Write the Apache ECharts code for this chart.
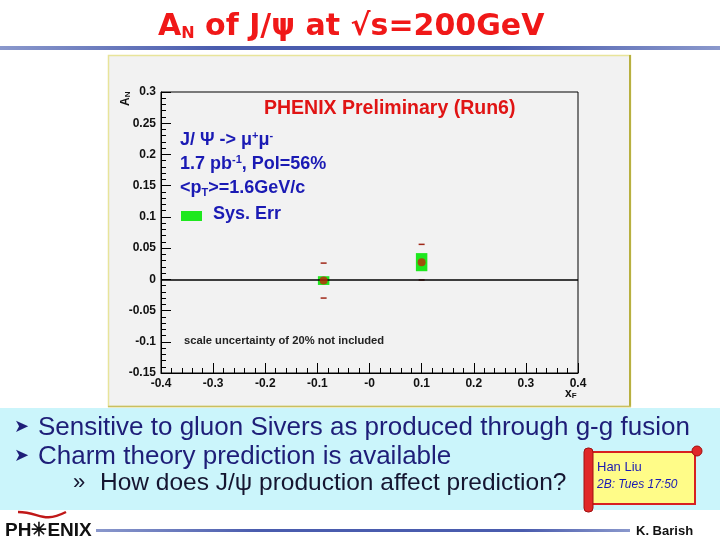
<!DOCTYPE html>
<html><head><meta charset="utf-8">
<script src="https://cdn.jsdelivr.net/npm/echarts@6/dist/echarts.min.js"></script>
<style>html,body{margin:0;padding:0;background:#fff}#c{width:720px;height:540px}</style>
</head><body><div id="c"></div>
<script>
// ---- data ----
const xF = [-0.088, 0.1];
const AN = [-0.002, 0.0275];
const statErr = [0.028, 0.0285];
const sysErr = [0.007, 0.0145];
const sysHalfWidth = [0.011, 0.011];
const xTickLabels = ['-0.4', '-0.3', '-0.2', '-0.1', '-0', '0.1', '0.2', '0.3', '0.4'];
const yTickLabels = ['-0.15', '-0.1', '-0.05', '0', '0.05', '0.1', '0.15', '0.2', '0.25', '0.3'];
const xRange = [-0.4, 0.4];
const yRange = [-0.15, 0.3];

const points = xF.map((x, i) => [x, AN[i], statErr[i], sysErr[i], sysHalfWidth[i]]);

const chart = echarts.init(document.getElementById('c'));
const F = 'Liberation Sans, Arial, sans-serif';
const navy = '#1e1e78';
const blue = '#1a1ab4';

chart.setOption({
  animation: false,
  backgroundColor: '#ffffff',
  grid: { left: 161, top: 92, width: 417, height: 281, show: true, borderColor: '#000', borderWidth: 1, backgroundColor: 'transparent' },
  xAxis: {
    type: 'value', min: xRange[0], max: xRange[1], interval: 0.1,
    axisLine: { show: true, onZero: false, lineStyle: { color: '#000', width: 1 } },
    axisTick: { show: true, inside: true, length: 10, lineStyle: { color: '#000' } },
    minorTick: { show: true, splitNumber: 5, length: 5, lineStyle: { color: '#000' } },
    splitLine: { show: false },
    axisLabel: { margin: 5, color: '#111', fontFamily: F, fontWeight: 'bold', fontSize: 12,
      formatter: v => xTickLabels[Math.round((v - xRange[0]) / 0.1)] }
  },
  yAxis: {
    type: 'value', min: yRange[0], max: yRange[1], interval: 0.05,
    axisLine: { show: true, onZero: false, lineStyle: { color: '#000', width: 1 } },
    axisTick: { show: true, inside: true, length: 10, lineStyle: { color: '#000' } },
    minorTick: { show: true, splitNumber: 5, length: 5, lineStyle: { color: '#000' } },
    splitLine: { show: false },
    axisLabel: { margin: 5, color: '#111', fontFamily: F, fontWeight: 'bold', fontSize: 12,
      formatter: v => yTickLabels[Math.round((v - yRange[0]) / 0.05)] }
  },
  series: [
    {
      type: 'custom', z: 1, data: points,
      renderItem: (params, api) => {
        const x = api.value(0), y = api.value(1), s = api.value(3), w = api.value(4);
        const p1 = api.coord([x - w, y + s]);
        const p2 = api.coord([x + w, y - s]);
        return { type: 'rect', shape: { x: p1[0], y: p1[1], width: p2[0] - p1[0], height: p2[1] - p1[1] },
          style: { fill: '#1ee81e' } };
      }
    },
    {
      type: 'custom', z: 1, data: points,
      renderItem: (params, api) => {
        const x = api.value(0), y = api.value(1), e = api.value(2);
        const top = api.coord([x, y + e]);
        const bot = api.coord([x, y - e]);
        return { type: 'group', children: [
          { type: 'line', shape: { x1: top[0] - 3, y1: top[1], x2: top[0] + 3, y2: top[1] }, style: { stroke: '#a02818', lineWidth: 1.5 } },
          { type: 'line', shape: { x1: bot[0] - 3, y1: bot[1], x2: bot[0] + 3, y2: bot[1] }, style: { stroke: '#a02818', lineWidth: 1.5 } }
        ] };
      }
    },
    {
      type: 'scatter', z: 3, data: points.map(p => [p[0], p[1]]),
      symbol: 'circle', symbolSize: 8,
      itemStyle: { color: '#c02808' },
      markLine: { silent: true, symbol: 'none', z: 2, label: { show: false },
        lineStyle: { color: '#000', width: 1.6, type: 'solid' }, data: [{ yAxis: 0 }] }
    }
  ],
  graphic: [
    // slide title
    { type: 'text', left: 158, top: 12, z: 10, style: {
      text: '{a|A}{s|N}{a| of J/ψ at √s=200GeV}', rich: {
        a: { fontFamily: 'DejaVu Sans', fontWeight: 'bold', fontSize: 30, fill: '#f01818' },
        s: { fontFamily: 'DejaVu Sans', fontWeight: 'bold', fontSize: 16, fill: '#f01818', verticalAlign: 'bottom', padding: [14, 0, 0, 0] }
      } } },
    { type: 'rect', z: -5, shape: { x: 0, y: 46, width: 720, height: 4 },
      style: { fill: new echarts.graphic.LinearGradient(0, 0, 1, 0, [
        { offset: 0, color: '#8a98cc' }, { offset: 0.3, color: '#4a5cae' }, { offset: 0.7, color: '#4a5cae' }, { offset: 1, color: '#8a98cc' }]) } },
    // canvas panel
    { type: 'rect', z: -10, shape: { x: 108.5, y: 55.5, width: 522, height: 351 },
      style: { fill: '#f2f2f2', stroke: '#e8e49a', lineWidth: 1.5 } },
    { type: 'line', z: -9, shape: { x1: 630, y1: 55, x2: 630, y2: 407 }, style: { stroke: '#b8b040', lineWidth: 2 } },
    { type: 'line', z: -9, shape: { x1: 108, y1: 406.5, x2: 631, y2: 406.5 }, style: { stroke: '#c8c060', lineWidth: 1.5 } },
    // plot texts
    { type: 'text', x: 264, y: 99, z: 10, style: { text: 'PHENIX Preliminary (Run6)', fontFamily: F, fontWeight: 'bold', fontSize: 19.5, fill: '#e01414' } },
    { type: 'text', x: 180, y: 130, z: 10, style: {
      text: '{t|J/ Ψ -> μ}{u|+}{t|μ}{u|-}', rich: {
        t: { fontFamily: F, fontWeight: 'bold', fontSize: 18, fill: blue },
        u: { fontFamily: F, fontWeight: 'bold', fontSize: 11, fill: blue, verticalAlign: 'top', padding: [0, 0, 9, 0] } } } },
    { type: 'text', x: 180, y: 154, z: 10, style: {
      text: '{t|1.7 pb}{u|-1}{t|, Pol=56%}', rich: {
        t: { fontFamily: F, fontWeight: 'bold', fontSize: 18, fill: blue },
        u: { fontFamily: F, fontWeight: 'bold', fontSize: 11, fill: blue, verticalAlign: 'top', padding: [0, 0, 9, 0] } } } },
    { type: 'text', x: 180, y: 178, z: 10, style: {
      text: '{t|<p}{d|T}{t|>=1.6GeV/c}', rich: {
        t: { fontFamily: F, fontWeight: 'bold', fontSize: 18, fill: blue },
        d: { fontFamily: F, fontWeight: 'bold', fontSize: 11, fill: blue, verticalAlign: 'bottom', padding: [9, 0, 0, 0] } } } },
    { type: 'rect', z: 10, shape: { x: 181, y: 211, width: 21, height: 10 }, style: { fill: '#1ee81e' } },
    { type: 'text', x: 213, y: 205, z: 10, style: { text: 'Sys. Err', fontFamily: F, fontWeight: 'bold', fontSize: 18, fill: blue } },
    { type: 'text', x: 184, y: 335, z: 10, style: { text: 'scale uncertainty of 20% not included', fontFamily: F, fontWeight: 'bold', fontSize: 11.2, fill: '#222' } },
    { type: 'text', x: 119, y: 106, rotation: Math.PI / 2, z: 10, style: {
      text: '{a|A}{s|N}', rich: { a: { fontFamily: F, fontWeight: 'bold', fontSize: 12, fill: '#111' },
        s: { fontFamily: F, fontWeight: 'bold', fontSize: 8, fill: '#111', verticalAlign: 'bottom', padding: [5, 0, 0, 0] } } } },
    { type: 'text', x: 565, y: 387, z: 10, style: {
      text: '{a|x}{s|F}', rich: { a: { fontFamily: F, fontWeight: 'bold', fontSize: 12, fill: '#111' },
        s: { fontFamily: F, fontWeight: 'bold', fontSize: 8, fill: '#111', verticalAlign: 'bottom', padding: [5, 0, 0, 0] } } } },
    // bottom bullet panel
    { type: 'rect', z: -10, shape: { x: 0, y: 408, width: 720, height: 102 }, style: { fill: '#cbf5fb' } },
    { type: 'text', x: 14, y: 418, z: 10, style: { text: '➤', fontFamily: 'DejaVu Sans', fontSize: 18, fill: navy } },
    { type: 'text', x: 38, y: 415, z: 10, style: { text: 'Sensitive to gluon Sivers as produced through g-g fusion', fontFamily: F, fontSize: 26, fill: navy } },
    { type: 'text', x: 14, y: 447, z: 10, style: { text: '➤', fontFamily: 'DejaVu Sans', fontSize: 18, fill: navy } },
    { type: 'text', x: 38, y: 444, z: 10, style: { text: 'Charm theory prediction is available', fontFamily: F, fontSize: 26, fill: navy } },
    { type: 'text', x: 73, y: 472, z: 10, style: { text: '»', fontFamily: F, fontSize: 22, fill: '#151530' } },
    { type: 'text', x: 100, y: 471, z: 10, style: { text: 'How does J/ψ production affect prediction?', fontFamily: F, fontSize: 24.5, fill: '#151530' } },
    // scroll
    { type: 'rect', z: 5, shape: { x: 591, y: 452, width: 104, height: 52 }, style: { fill: '#fffc88', stroke: '#d82020', lineWidth: 2 } },
    { type: 'rect', z: 6, shape: { x: 584, y: 448, width: 9, height: 64, r: 4 }, style: { fill: '#e02828', stroke: '#a01010', lineWidth: 1 } },
    { type: 'circle', z: 6, shape: { cx: 697, cy: 451, r: 5 }, style: { fill: '#e02828', stroke: '#a01010', lineWidth: 1 } },
    { type: 'text', x: 597, y: 461, z: 10, style: { text: 'Han Liu', fontFamily: F, fontSize: 13, fill: '#1a1ab4' } },
    { type: 'text', x: 597, y: 479, z: 10, style: { text: '2B: Tues 17:50', fontFamily: F, fontStyle: 'italic', fontSize: 12, fill: '#1a1ab4' } },
    // footer
    { type: 'bezierCurve', z: 10, shape: { x1: 18, y1: 512, x2: 66, y2: 512, cpx1: 40, cpy1: 512, cpx2: 42, cpy2: 524 }, style: { stroke: '#c01818', lineWidth: 2.5 } },
    { type: 'text', x: 5, y: 521, z: 10, style: { text: 'PH✳ENIX', fontFamily: 'Liberation Sans Narrow, Liberation Sans', fontWeight: 'bold', fontSize: 19, fill: '#111' } },
    { type: 'rect', z: -5, shape: { x: 96, y: 529, width: 534, height: 3 },
      style: { fill: new echarts.graphic.LinearGradient(0, 0, 1, 0, [
        { offset: 0, color: '#8a98cc' }, { offset: 0.3, color: '#4a5cae' }, { offset: 0.8, color: '#4a5cae' }, { offset: 1, color: '#8a98cc' }]) } },
    { type: 'text', x: 636, y: 525, z: 10, style: { text: 'K. Barish', fontFamily: 'Liberation Sans Narrow, Liberation Sans', fontWeight: 'bold', fontSize: 13, fill: '#111' } }
  ]
});
</script></body></html>
